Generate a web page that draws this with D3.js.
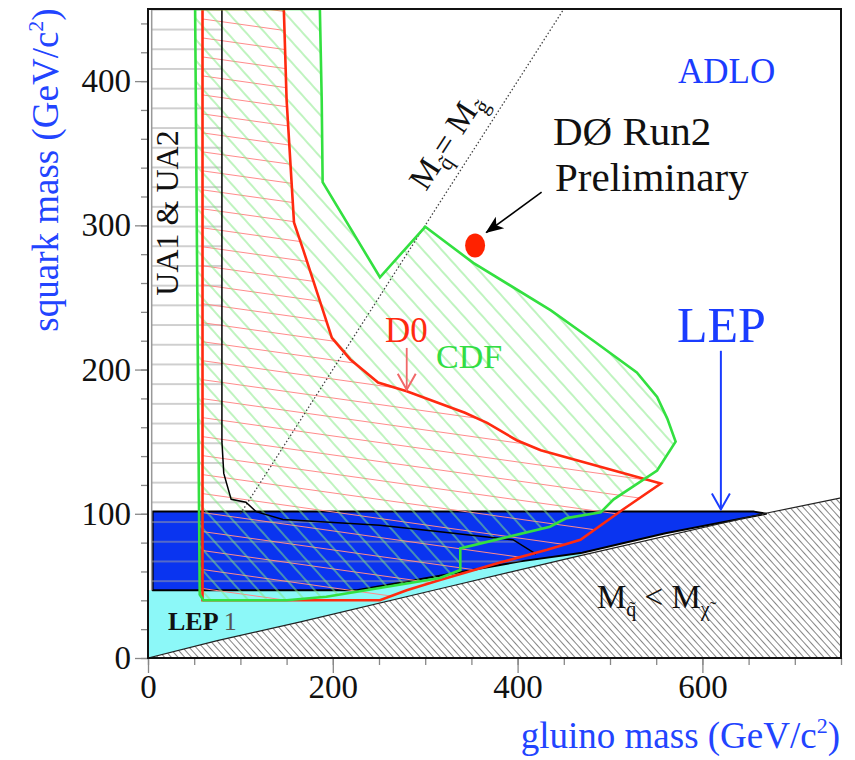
<!DOCTYPE html>
<meta charset="utf-8">
<style>
  body { margin: 0; background: #fff; }
  text { font-family: "Liberation Serif", "Times New Roman", serif; }
</style>
<svg width="855" height="760"></svg>
<script src="https://d3js.org/d3.v7.min.js"></script>
<script>

// ---- data (GeV/c^2) ----
var xTicks = [0, 200, 400, 600];
var yTicks = [0, 100, 200, 300, 400];
var xMinor = d3.range(0, 751, 50);
var yMinor = d3.range(0, 451, 20);

// kinematic limit M(squark) = M(neutralino)
var kinLine = [[0,0],[75,12],[165,25],[316,48],[468,71],[666,100],[750,111]];

// LEP1 (cyan)
var lep1Contour = [[0,0],[0,47],[226,47],[316,57],[403,67],[470,73],[468,71],[316,48],[165,25],[75,12]];

// LEP ADLO (blue)
var lepContour = [[5,47],[5,101.5],[656,101.5],[669,100],[560,86.5],[470,73],[403,67],[316,57],[226,47]];

// UA1 & UA2
var uaContour = [[80,450],[80,150],[82,128],[90,110],[106,108],[117,101.5],[146,96],[251,92],[316,87.6],[395,82],[420,72]];
var uaClose = [[403,67],[316,57],[226,47],[4,47],[4,450]];

// D0 run 1
var d0Contour = [[59,450],[147,450],[150,387],[158,302],[168,283],[199,222],[219,207],[249,191],[280,185],
  [343,170],[367,163],[399,151],[425,144],[555,121],[514,103],[468,82],[432,75],[380,66],[316,54],
  [280,47],[251,40],[59,40]];

// CDF run 1
var cdfContour = [[51,450],[186,450],[188,387],[189,330],[251,264],[300,299],[352,274],[436,241],[482,220],
  [529,198],[551,181],[562,166],[571,150],[551,130],[504,110],[490,101],[453,97],[435,91],[338,76],
  [338,61],[316,55.5],[226,46],[193,42.5],[150,40],[60,40],[56,44],[54,200]];

// M(squark) = M(gluino)
var diagLine = [[100,100],[450,450]];

// D0 Run2 preliminary point
var run2Point = [354, 286];

var svg = d3.select("svg"),
    width = +svg.attr("width"),
    height = +svg.attr("height");

var x = d3.scaleLinear().domain([0, 750]).range([148, 841]);
var y = d3.scaleLinear().domain([0, 450]).range([658, 9]);

var line = d3.line().x(function(d) { return x(d[0]); }).y(function(d) { return y(d[1]); });

var defs = svg.append("defs");

defs.append("clipPath").attr("id", "plot")
  .append("rect").attr("x", x(0)).attr("y", y(450)).attr("width", x(750) - x(0)).attr("height", y(0) - y(450));

function hatch(id, spacing, angle, color, w) {
  var p = defs.append("pattern").attr("id", id)
    .attr("patternUnits", "userSpaceOnUse")
    .attr("width", 40).attr("height", spacing)
    .attr("patternTransform", "rotate(" + angle + ")");
  p.append("line").attr("x1", 0).attr("x2", 40).attr("y1", spacing / 2).attr("y2", spacing / 2)
    .attr("stroke", color).attr("stroke-width", w);
}
hatch("hKin", 5, 48, "#777", 0.9);
hatch("hCdf", 14, 48, "#80e880", 1);
hatch("hD0", 18.8, 8, "#ff8a8a", 1);
hatch("hUa", 19.7, 0, "#a0a0a0", 1);

defs.append("marker").attr("id", "openHead").attr("viewBox", "0 0 20 20")
  .attr("refX", 18).attr("refY", 10).attr("markerWidth", 20).attr("markerHeight", 20)
  .attr("markerUnits", "userSpaceOnUse").attr("orient", "auto")
  .append("path").attr("d", "M2,1 L18,10 L2,19").attr("fill", "none").attr("stroke", "context-stroke").attr("stroke-width", 2);

defs.append("marker").attr("id", "fillHead").attr("viewBox", "0 0 20 20")
  .attr("refX", 19).attr("refY", 10).attr("markerWidth", 18).attr("markerHeight", 18)
  .attr("markerUnits", "userSpaceOnUse").attr("orient", "auto")
  .append("path").attr("d", "M0,2 L20,10 L0,18 L5,10 Z").attr("fill", "#000");

var g = svg.append("g").attr("clip-path", "url(#plot)");

// cyan LEP1
g.append("path").attr("d", line(lep1Contour) + "Z").attr("fill", "#8cf8f8");

// blue LEP
g.append("path").attr("d", line(lepContour) + "Z").attr("fill", "#0a34f0")
  .attr("stroke", "#000").attr("stroke-width", 2).attr("stroke-linejoin", "round");

// UA hatch
g.append("path").attr("d", line(uaContour.concat(uaClose)) + "Z").attr("fill", "url(#hUa)");
g.append("path").attr("d", line([[4,47],[4,450]])).attr("stroke", "#999").attr("stroke-width", 1.5);

// D0 / CDF hatching
g.append("path").attr("d", line(d0Contour) + "Z").attr("fill", "url(#hD0)");
g.append("path").attr("d", line(cdfContour) + "Z").attr("fill", "url(#hCdf)");

// kinematically forbidden region
g.append("path").attr("d", line(kinLine.concat([[750,0]])) + "Z").attr("fill", "url(#hKin)");
g.append("path").attr("d", line(kinLine)).attr("fill", "none").attr("stroke", "#222").attr("stroke-width", 1.2);

// M_q = M_g
g.append("path").attr("d", line(diagLine)).attr("fill", "none")
  .attr("stroke", "#444").attr("stroke-width", 1.3).attr("stroke-dasharray", "1.5,2.2");

// UA boundary
g.append("path").attr("d", line(uaContour)).attr("fill", "none").attr("stroke", "#000").attr("stroke-width", 1.5);

// contours
g.append("path").attr("d", line(d0Contour) + "Z").attr("fill", "none")
  .attr("stroke", "#ff2a10").attr("stroke-width", 2.6);
g.append("path").attr("d", line(cdfContour) + "Z").attr("fill", "none")
  .attr("stroke", "#33e040").attr("stroke-width", 2.6);

// Run2 point
g.append("ellipse").attr("cx", x(run2Point[0])).attr("cy", y(run2Point[1]))
  .attr("rx", 10).attr("ry", 12).attr("fill", "#ff2200");

// axes
var tickColor = "#888";
function styleAxis(sel) {
  sel.select(".domain").remove();
  sel.selectAll(".tick line").attr("stroke", tickColor).attr("stroke-width", 1.3);
  sel.selectAll(".tick text").attr("font-family", "Liberation Serif, serif").attr("font-size", 33).attr("fill", "#111");
}
svg.append("g").attr("transform", "translate(0," + y(0) + ")")
  .call(d3.axisBottom(x).tickValues(xMinor).tickSize(7).tickFormat(""))
  .call(styleAxis);
svg.append("g").attr("transform", "translate(0," + y(0) + ")")
  .call(d3.axisBottom(x).tickValues(xTicks).tickSize(15).tickPadding(2).tickFormat(d3.format("d")))
  .call(styleAxis);
svg.append("g").attr("transform", "translate(" + x(0) + ",0)")
  .call(d3.axisLeft(y).tickValues(yMinor).tickSize(7).tickFormat(""))
  .call(styleAxis);
svg.append("g").attr("transform", "translate(" + x(0) + ",0)")
  .call(d3.axisLeft(y).tickValues(yTicks).tickSize(13).tickPadding(4).tickFormat(d3.format("d")))
  .call(styleAxis);

// frame
svg.append("rect").attr("x", x(0)).attr("y", y(450)).attr("width", x(750) - x(0)).attr("height", y(0) - y(450))
  .attr("fill", "none").attr("stroke", "#111").attr("stroke-width", 2);

// arrows
svg.append("path").attr("d", line([[620,213],[620,103]])).attr("stroke", "#1a3cff").attr("stroke-width", 2)
  .attr("fill", "none").attr("marker-end", "url(#openHead)");
svg.append("path").attr("d", line([[280,215],[280,186]])).attr("stroke", "#f06868").attr("stroke-width", 1.8)
  .attr("fill", "none").attr("marker-end", "url(#openHead)");
svg.append("path").attr("d", line([[426,323],[366,295]])).attr("stroke", "#000").attr("stroke-width", 1.6)
  .attr("fill", "none").attr("marker-end", "url(#fillHead)");

// labels
function label(t, px, py, size, color) {
  return svg.append("text").attr("x", px).attr("y", py).attr("font-size", size).attr("fill", color).text(t);
}
label("ADLO", 678, 83, 35, "#1a3cff");
label("D\u00D8 Run2", 553, 145, 41, "#111");
label("Preliminary", 555, 191, 41, "#111");
label("LEP", 677, 342, 50, "#1a3cff");
label("D0", 385, 342, 35, "#ff2a10");
label("CDF", 436, 368, 34, "#33dd44");

var lep1 = label("", 168, 630, 26, "#111");
lep1.append("tspan").attr("font-weight", "bold").text("LEP ");
lep1.append("tspan").attr("fill", "#555").text("1");

svg.append("text").attr("transform", "translate(178,213) rotate(-90)")
  .attr("text-anchor", "middle").attr("font-size", 32).attr("fill", "#111").text("UA1 & UA2");

var mlt = label("", 597, 608, 33, "#111");
mlt.append("tspan").text("M");
mlt.append("tspan").attr("font-size", 20).attr("dy", 8).text("q\u0303");
mlt.append("tspan").attr("dy", -8).text(" < M");
mlt.append("tspan").attr("font-size", 20).attr("dy", 8).text("\u03C7\u0303");

var meq = svg.append("text").attr("transform", "translate(426,192) rotate(-57)")
  .attr("font-size", 33).attr("fill", "#111");
meq.append("tspan").text("M");
meq.append("tspan").attr("font-size", 22).attr("dy", 8).text("q\u0303");
meq.append("tspan").attr("dy", -8).text("= ");
meq.append("tspan").text("M");
meq.append("tspan").attr("font-size", 22).attr("dy", 8).text("g\u0303");

var yl = svg.append("text").attr("transform", "translate(58,170) rotate(-90)")
  .attr("text-anchor", "middle").attr("font-size", 37).attr("fill", "#2244ff");
yl.append("tspan").text("squark mass (GeV/c");
yl.append("tspan").attr("font-size", 22).attr("dy", -15).text("2");
yl.append("tspan").attr("dy", 15).text(")");

var xl = svg.append("text").attr("x", 840).attr("y", 748)
  .attr("text-anchor", "end").attr("font-size", 37).attr("fill", "#2244ff");
xl.append("tspan").text("gluino mass (GeV/c");
xl.append("tspan").attr("font-size", 22).attr("dy", -15).text("2");
xl.append("tspan").attr("dy", 15).text(")");

</script>
